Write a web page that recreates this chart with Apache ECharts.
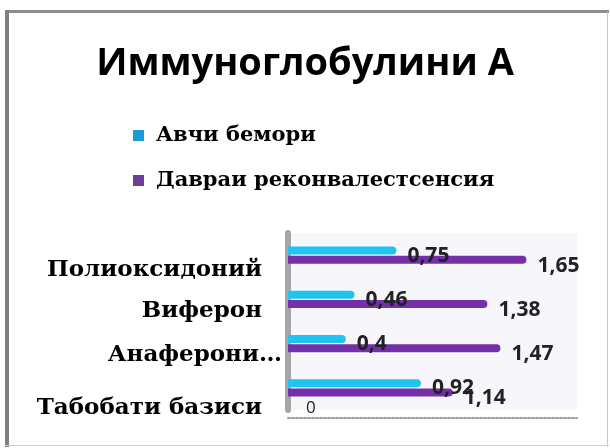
<!DOCTYPE html>
<html>
<head>
<meta charset="utf-8">
<script src="https://cdn.jsdelivr.net/npm/echarts@6/dist/echarts.min.js"></script>
<style>
html,body{margin:0;padding:0;background:#fff;}
#chart{width:610px;height:448px;}
</style>
</head>
<body>
<div id="chart"></div>
<script>
// Data (bottom to top)
const categories = ['Табобати базиси', 'Анаферони…', 'Виферон', 'Полиоксидоний'];
const seriesNames = ['Авчи бемори', 'Давраи реконвалестсенсия'];
const acuteValues = [0.92, 0.4, 0.46, 0.75];
const convalescenceValues = [1.14, 1.47, 1.38, 1.65];
const xTickLabels = ['0'];
const titleText = 'Иммуноглобулини А';

const labelShift = [20, 11, 12, 15];      // per-category downward shift (px)
const labelRightPad = [20, 0, 20, 20];

const rich = {};
categories.forEach((c, i) => {
  rich['c' + i] = {
    fontFamily: 'DejaVu Serif', fontWeight: 'bold', fontSize: 23, color: '#000',
    padding: [labelShift[i] * 2, labelRightPad[i], 0, 0]
  };
});

const chart = echarts.init(document.getElementById('chart'), null, {renderer: 'canvas'});

const fmt = p => String(p.value).replace('.', ',');

const option = {
  backgroundColor: '#ffffff',
  animation: false,
  title: {
    text: titleText,
    left: 'center',
    top: 40,
    textStyle: {fontFamily: 'Open Sans', fontWeight: 'bold', fontSize: 38, color: '#000'}
  },
  legend: {
    orient: 'vertical',
    left: 133,
    top: 125,
    padding: 0,
    itemWidth: 11,
    itemHeight: 11,
    itemGap: 24,
    icon: 'rect',
    textStyle: {fontFamily: 'DejaVu Serif', fontWeight: 'bold', fontSize: 21, color: '#000', padding: [0,0,0,7]},
    data: [
      {name: seriesNames[0], itemStyle: {color: '#1e9ad6'}},
      {name: seriesNames[1], itemStyle: {color: '#6b3f98'}}
    ]
  },
  grid: {
    left: 288, right: 33, top: 233, height: 177,
    show: true, backgroundColor: '#f7f6fa', borderWidth: 0
  },
  xAxis: {
    type: 'value',
    min: 0, max: 2, interval: 0.5,
    offset: 8,
    splitLine: {show: false},
    axisTick: {show: false},
    axisLine: {show: true, lineStyle: {color: '#9a9a9a', width: 2, type: 'dotted'}},
    axisLabel: {
      inside: true,
      margin: 1,
      align: 'left',
      padding: [0, 0, 0, 18],
      fontFamily: 'Open Sans',
      fontSize: 17,
      color: '#222',
      formatter: v => (v === 0 ? xTickLabels[0] : '')
    }
  },
  yAxis: {
    type: 'category',
    data: categories,
    axisTick: {show: false},
    axisLine: {show: true, lineStyle: {color: '#a6a6a6', width: 6}},
    axisLabel: {
      margin: 6,
      fontFamily: 'DejaVu Serif',
      fontWeight: 'bold',
      fontSize: 23,
      color: '#000',
      formatter: (v, i) => '{c' + i + '|' + v + '}',
      rich: rich
    }
  },
  series: [
    {
      name: seriesNames[0],
      type: 'bar',
      data: acuteValues,
      barWidth: 8,
      barGap: '15%',
      itemStyle: {color: '#20c5ef', borderRadius: [0, 4, 4, 0]},
      label: {
        show: true, position: 'right', distance: 11, offset: [0, 5],
        formatter: fmt, fontFamily: 'Open Sans', fontWeight: 'bold', fontSize: 21, color: '#222'
      }
    },
    {
      name: seriesNames[1],
      type: 'bar',
      data: convalescenceValues,
      barWidth: 8,
      itemStyle: {color: '#7330a8', borderRadius: [0, 4, 4, 0]},
      label: {
        show: true, position: 'right', distance: 11, offset: [0, 6],
        formatter: fmt, fontFamily: 'Open Sans', fontWeight: 'bold', fontSize: 21, color: '#222'
      }
    }
  ],
  graphic: [
    {type: 'line', shape: {x1: 5, y1: 11.5, x2: 609, y2: 11.5}, style: {stroke: '#8c8c8c', lineWidth: 3}, silent: true},
    {type: 'line', shape: {x1: 7, y1: 10, x2: 7, y2: 447}, style: {stroke: '#7f7f7f', lineWidth: 4}, silent: true},
    {type: 'line', shape: {x1: 607.5, y1: 12, x2: 607.5, y2: 447}, style: {stroke: '#c8c8c8', lineWidth: 1}, silent: true},
    {type: 'line', shape: {x1: 5, y1: 445.5, x2: 609, y2: 445.5}, style: {stroke: '#cfcfcf', lineWidth: 1}, silent: true}
  ]
};
chart.setOption(option);
</script>
</body>
</html>
